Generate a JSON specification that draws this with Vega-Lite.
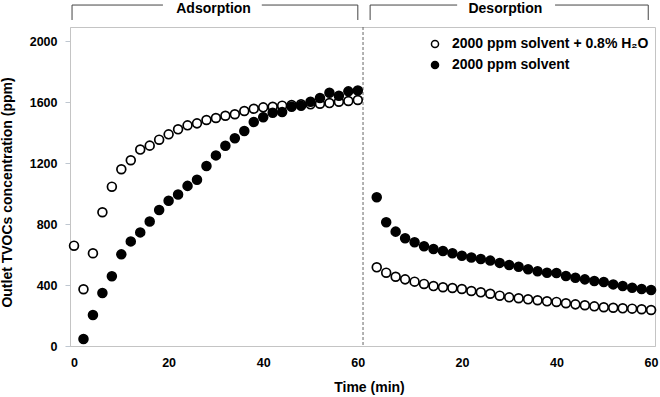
{
  "$schema": "https://vega.github.io/schema/vega-lite/v6.json",
  "width": 585,
  "height": 319,
  "padding": {"left": 70, "top": 27, "right": 5, "bottom": 51},
  "autosize": {"type": "none"},
  "background": "white",
  "config": {
    "font": "Liberation Sans",
    "view": {"stroke": "#c4c4c4", "strokeWidth": 1},
    "axis": {"grid": false, "domainColor": "#c4c4c4", "labelFont": "Liberation Sans", "labelFontWeight": "bold", "labelColor": "black", "labelFontSize": 12.5, "titleFont": "Liberation Sans", "titleFontWeight": "bold", "titleFontSize": 14, "titleColor": "black"},
    "legend": {"labelFont": "Liberation Sans", "labelFontWeight": "bold", "labelFontSize": 14, "labelColor": "black", "labelLimit": 400}
  },
  "layer": [
    {
      "data": {"values": [{"t": 61.1}]},
      "mark": {"type": "rule", "color": "#666666", "strokeDash": [3, 2], "strokeWidth": 1},
      "encoding": {
        "x": {"field": "t", "type": "quantitative", "title": "Time (min)"}
      }
    },
    {
      "data": {"values": [
        {"x1": -0.42, "x2": -0.42, "y1": 2138, "y2": 2236},
        {"x1": -0.42, "x2": 18.8, "y1": 2236, "y2": 2236},
        {"x1": 39.7, "x2": 60.0, "y1": 2236, "y2": 2236},
        {"x1": 60.0, "x2": 60.0, "y1": 2138, "y2": 2236},
        {"x1": 62.6, "x2": 62.6, "y1": 2138, "y2": 2236},
        {"x1": 62.6, "x2": 81.0, "y1": 2236, "y2": 2236},
        {"x1": 101.7, "x2": 121.4, "y1": 2236, "y2": 2236},
        {"x1": 121.4, "x2": 121.4, "y1": 2138, "y2": 2236}
      ]},
      "mark": {"type": "rule", "color": "#444444", "strokeWidth": 1},
      "encoding": {
        "x": {"field": "x1", "type": "quantitative", "title": "Time (min)"},
        "x2": {"field": "x2"},
        "y": {"field": "y1", "type": "quantitative", "title": "Outlet TVOCs concentration (ppm)"},
        "y2": {"field": "y2"}
      }
    },
    {
      "data": {"values": [
        {"label": "Adsorption", "x": 29.5, "y": 2210},
        {"label": "Desorption", "x": 91.2, "y": 2210}
      ]},
      "mark": {"type": "text", "font": "Liberation Sans", "fontWeight": "bold", "fontSize": 14, "color": "black", "baseline": "middle", "align": "center"},
      "encoding": {
        "x": {"field": "x", "type": "quantitative", "title": "Time (min)"},
        "y": {"field": "y", "type": "quantitative", "title": "Outlet TVOCs concentration (ppm)"},
        "text": {"field": "label"}
      }
    },
    {
      "data": {"values": [
        {"series": "2000 ppm solvent + 0.8% H₂O", "phase": "Adsorption", "min": 0, "elapsed": 0, "ppm": 658},
        {"series": "2000 ppm solvent + 0.8% H₂O", "phase": "Adsorption", "min": 2, "elapsed": 2, "ppm": 372},
        {"series": "2000 ppm solvent + 0.8% H₂O", "phase": "Adsorption", "min": 4, "elapsed": 4, "ppm": 608},
        {"series": "2000 ppm solvent + 0.8% H₂O", "phase": "Adsorption", "min": 6, "elapsed": 6, "ppm": 877},
        {"series": "2000 ppm solvent + 0.8% H₂O", "phase": "Adsorption", "min": 8, "elapsed": 8, "ppm": 1045},
        {"series": "2000 ppm solvent + 0.8% H₂O", "phase": "Adsorption", "min": 10, "elapsed": 10, "ppm": 1159},
        {"series": "2000 ppm solvent + 0.8% H₂O", "phase": "Adsorption", "min": 12, "elapsed": 12, "ppm": 1218},
        {"series": "2000 ppm solvent + 0.8% H₂O", "phase": "Adsorption", "min": 14, "elapsed": 14, "ppm": 1288},
        {"series": "2000 ppm solvent + 0.8% H₂O", "phase": "Adsorption", "min": 16, "elapsed": 16, "ppm": 1314},
        {"series": "2000 ppm solvent + 0.8% H₂O", "phase": "Adsorption", "min": 18, "elapsed": 18, "ppm": 1353},
        {"series": "2000 ppm solvent + 0.8% H₂O", "phase": "Adsorption", "min": 20, "elapsed": 20, "ppm": 1388},
        {"series": "2000 ppm solvent + 0.8% H₂O", "phase": "Adsorption", "min": 22, "elapsed": 22, "ppm": 1421},
        {"series": "2000 ppm solvent + 0.8% H₂O", "phase": "Adsorption", "min": 24, "elapsed": 24, "ppm": 1447},
        {"series": "2000 ppm solvent + 0.8% H₂O", "phase": "Adsorption", "min": 26, "elapsed": 26, "ppm": 1460},
        {"series": "2000 ppm solvent + 0.8% H₂O", "phase": "Adsorption", "min": 28, "elapsed": 28, "ppm": 1482},
        {"series": "2000 ppm solvent + 0.8% H₂O", "phase": "Adsorption", "min": 30, "elapsed": 30, "ppm": 1495},
        {"series": "2000 ppm solvent + 0.8% H₂O", "phase": "Adsorption", "min": 32, "elapsed": 32, "ppm": 1510},
        {"series": "2000 ppm solvent + 0.8% H₂O", "phase": "Adsorption", "min": 34, "elapsed": 34, "ppm": 1520},
        {"series": "2000 ppm solvent + 0.8% H₂O", "phase": "Adsorption", "min": 36, "elapsed": 36, "ppm": 1541},
        {"series": "2000 ppm solvent + 0.8% H₂O", "phase": "Adsorption", "min": 38, "elapsed": 38, "ppm": 1556},
        {"series": "2000 ppm solvent + 0.8% H₂O", "phase": "Adsorption", "min": 40, "elapsed": 40, "ppm": 1565},
        {"series": "2000 ppm solvent + 0.8% H₂O", "phase": "Adsorption", "min": 42, "elapsed": 42, "ppm": 1569},
        {"series": "2000 ppm solvent + 0.8% H₂O", "phase": "Adsorption", "min": 44, "elapsed": 44, "ppm": 1576},
        {"series": "2000 ppm solvent + 0.8% H₂O", "phase": "Adsorption", "min": 46, "elapsed": 46, "ppm": 1580},
        {"series": "2000 ppm solvent + 0.8% H₂O", "phase": "Adsorption", "min": 48, "elapsed": 48, "ppm": 1585},
        {"series": "2000 ppm solvent + 0.8% H₂O", "phase": "Adsorption", "min": 50, "elapsed": 50, "ppm": 1585},
        {"series": "2000 ppm solvent + 0.8% H₂O", "phase": "Adsorption", "min": 52, "elapsed": 52, "ppm": 1589},
        {"series": "2000 ppm solvent + 0.8% H₂O", "phase": "Adsorption", "min": 54, "elapsed": 54, "ppm": 1593},
        {"series": "2000 ppm solvent + 0.8% H₂O", "phase": "Adsorption", "min": 56, "elapsed": 56, "ppm": 1602},
        {"series": "2000 ppm solvent + 0.8% H₂O", "phase": "Adsorption", "min": 58, "elapsed": 58, "ppm": 1607},
        {"series": "2000 ppm solvent + 0.8% H₂O", "phase": "Adsorption", "min": 60, "elapsed": 60, "ppm": 1613},
        {"series": "2000 ppm solvent", "phase": "Adsorption", "min": 2, "elapsed": 2, "ppm": 46},
        {"series": "2000 ppm solvent", "phase": "Adsorption", "min": 4, "elapsed": 4, "ppm": 203},
        {"series": "2000 ppm solvent", "phase": "Adsorption", "min": 6, "elapsed": 6, "ppm": 348},
        {"series": "2000 ppm solvent", "phase": "Adsorption", "min": 8, "elapsed": 8, "ppm": 457},
        {"series": "2000 ppm solvent", "phase": "Adsorption", "min": 10, "elapsed": 10, "ppm": 601},
        {"series": "2000 ppm solvent", "phase": "Adsorption", "min": 12, "elapsed": 12, "ppm": 686},
        {"series": "2000 ppm solvent", "phase": "Adsorption", "min": 14, "elapsed": 14, "ppm": 745},
        {"series": "2000 ppm solvent", "phase": "Adsorption", "min": 16, "elapsed": 16, "ppm": 817},
        {"series": "2000 ppm solvent", "phase": "Adsorption", "min": 18, "elapsed": 18, "ppm": 892},
        {"series": "2000 ppm solvent", "phase": "Adsorption", "min": 20, "elapsed": 20, "ppm": 952},
        {"series": "2000 ppm solvent", "phase": "Adsorption", "min": 22, "elapsed": 22, "ppm": 993},
        {"series": "2000 ppm solvent", "phase": "Adsorption", "min": 24, "elapsed": 24, "ppm": 1050},
        {"series": "2000 ppm solvent", "phase": "Adsorption", "min": 26, "elapsed": 26, "ppm": 1090},
        {"series": "2000 ppm solvent", "phase": "Adsorption", "min": 28, "elapsed": 28, "ppm": 1180},
        {"series": "2000 ppm solvent", "phase": "Adsorption", "min": 30, "elapsed": 30, "ppm": 1250},
        {"series": "2000 ppm solvent", "phase": "Adsorption", "min": 32, "elapsed": 32, "ppm": 1313},
        {"series": "2000 ppm solvent", "phase": "Adsorption", "min": 34, "elapsed": 34, "ppm": 1362},
        {"series": "2000 ppm solvent", "phase": "Adsorption", "min": 36, "elapsed": 36, "ppm": 1410},
        {"series": "2000 ppm solvent", "phase": "Adsorption", "min": 38, "elapsed": 38, "ppm": 1469},
        {"series": "2000 ppm solvent", "phase": "Adsorption", "min": 40, "elapsed": 40, "ppm": 1500},
        {"series": "2000 ppm solvent", "phase": "Adsorption", "min": 42, "elapsed": 42, "ppm": 1530},
        {"series": "2000 ppm solvent", "phase": "Adsorption", "min": 44, "elapsed": 44, "ppm": 1534},
        {"series": "2000 ppm solvent", "phase": "Adsorption", "min": 46, "elapsed": 46, "ppm": 1569},
        {"series": "2000 ppm solvent", "phase": "Adsorption", "min": 48, "elapsed": 48, "ppm": 1576},
        {"series": "2000 ppm solvent", "phase": "Adsorption", "min": 50, "elapsed": 50, "ppm": 1602},
        {"series": "2000 ppm solvent", "phase": "Adsorption", "min": 52, "elapsed": 52, "ppm": 1626},
        {"series": "2000 ppm solvent", "phase": "Adsorption", "min": 54, "elapsed": 54, "ppm": 1661},
        {"series": "2000 ppm solvent", "phase": "Adsorption", "min": 56, "elapsed": 56, "ppm": 1641},
        {"series": "2000 ppm solvent", "phase": "Adsorption", "min": 58, "elapsed": 58, "ppm": 1670},
        {"series": "2000 ppm solvent", "phase": "Adsorption", "min": 60, "elapsed": 60, "ppm": 1676},
        {"series": "2000 ppm solvent + 0.8% H₂O", "phase": "Desorption", "min": 2, "elapsed": 64, "ppm": 516},
        {"series": "2000 ppm solvent + 0.8% H₂O", "phase": "Desorption", "min": 4, "elapsed": 66, "ppm": 481},
        {"series": "2000 ppm solvent + 0.8% H₂O", "phase": "Desorption", "min": 6, "elapsed": 68, "ppm": 454},
        {"series": "2000 ppm solvent + 0.8% H₂O", "phase": "Desorption", "min": 8, "elapsed": 70, "ppm": 437},
        {"series": "2000 ppm solvent + 0.8% H₂O", "phase": "Desorption", "min": 10, "elapsed": 72, "ppm": 422},
        {"series": "2000 ppm solvent + 0.8% H₂O", "phase": "Desorption", "min": 12, "elapsed": 74, "ppm": 407},
        {"series": "2000 ppm solvent + 0.8% H₂O", "phase": "Desorption", "min": 14, "elapsed": 76, "ppm": 393},
        {"series": "2000 ppm solvent + 0.8% H₂O", "phase": "Desorption", "min": 16, "elapsed": 78, "ppm": 385},
        {"series": "2000 ppm solvent + 0.8% H₂O", "phase": "Desorption", "min": 18, "elapsed": 80, "ppm": 380},
        {"series": "2000 ppm solvent + 0.8% H₂O", "phase": "Desorption", "min": 20, "elapsed": 82, "ppm": 374},
        {"series": "2000 ppm solvent + 0.8% H₂O", "phase": "Desorption", "min": 22, "elapsed": 84, "ppm": 361},
        {"series": "2000 ppm solvent + 0.8% H₂O", "phase": "Desorption", "min": 24, "elapsed": 86, "ppm": 352},
        {"series": "2000 ppm solvent + 0.8% H₂O", "phase": "Desorption", "min": 26, "elapsed": 88, "ppm": 343},
        {"series": "2000 ppm solvent + 0.8% H₂O", "phase": "Desorption", "min": 28, "elapsed": 90, "ppm": 330},
        {"series": "2000 ppm solvent + 0.8% H₂O", "phase": "Desorption", "min": 30, "elapsed": 92, "ppm": 319},
        {"series": "2000 ppm solvent + 0.8% H₂O", "phase": "Desorption", "min": 32, "elapsed": 94, "ppm": 313},
        {"series": "2000 ppm solvent + 0.8% H₂O", "phase": "Desorption", "min": 34, "elapsed": 96, "ppm": 306},
        {"series": "2000 ppm solvent + 0.8% H₂O", "phase": "Desorption", "min": 36, "elapsed": 98, "ppm": 300},
        {"series": "2000 ppm solvent + 0.8% H₂O", "phase": "Desorption", "min": 38, "elapsed": 100, "ppm": 293},
        {"series": "2000 ppm solvent + 0.8% H₂O", "phase": "Desorption", "min": 40, "elapsed": 102, "ppm": 289},
        {"series": "2000 ppm solvent + 0.8% H₂O", "phase": "Desorption", "min": 42, "elapsed": 104, "ppm": 280},
        {"series": "2000 ppm solvent + 0.8% H₂O", "phase": "Desorption", "min": 44, "elapsed": 106, "ppm": 273},
        {"series": "2000 ppm solvent + 0.8% H₂O", "phase": "Desorption", "min": 46, "elapsed": 108, "ppm": 267},
        {"series": "2000 ppm solvent + 0.8% H₂O", "phase": "Desorption", "min": 48, "elapsed": 110, "ppm": 260},
        {"series": "2000 ppm solvent + 0.8% H₂O", "phase": "Desorption", "min": 50, "elapsed": 112, "ppm": 254},
        {"series": "2000 ppm solvent + 0.8% H₂O", "phase": "Desorption", "min": 52, "elapsed": 114, "ppm": 251},
        {"series": "2000 ppm solvent + 0.8% H₂O", "phase": "Desorption", "min": 54, "elapsed": 116, "ppm": 247},
        {"series": "2000 ppm solvent + 0.8% H₂O", "phase": "Desorption", "min": 56, "elapsed": 118, "ppm": 245},
        {"series": "2000 ppm solvent + 0.8% H₂O", "phase": "Desorption", "min": 58, "elapsed": 120, "ppm": 241},
        {"series": "2000 ppm solvent + 0.8% H₂O", "phase": "Desorption", "min": 60, "elapsed": 122, "ppm": 236},
        {"series": "2000 ppm solvent", "phase": "Desorption", "min": 2, "elapsed": 64, "ppm": 975},
        {"series": "2000 ppm solvent", "phase": "Desorption", "min": 4, "elapsed": 66, "ppm": 811},
        {"series": "2000 ppm solvent", "phase": "Desorption", "min": 6, "elapsed": 68, "ppm": 750},
        {"series": "2000 ppm solvent", "phase": "Desorption", "min": 8, "elapsed": 70, "ppm": 706},
        {"series": "2000 ppm solvent", "phase": "Desorption", "min": 10, "elapsed": 72, "ppm": 680},
        {"series": "2000 ppm solvent", "phase": "Desorption", "min": 12, "elapsed": 74, "ppm": 654},
        {"series": "2000 ppm solvent", "phase": "Desorption", "min": 14, "elapsed": 76, "ppm": 636},
        {"series": "2000 ppm solvent", "phase": "Desorption", "min": 16, "elapsed": 78, "ppm": 623},
        {"series": "2000 ppm solvent", "phase": "Desorption", "min": 18, "elapsed": 80, "ppm": 608},
        {"series": "2000 ppm solvent", "phase": "Desorption", "min": 20, "elapsed": 82, "ppm": 592},
        {"series": "2000 ppm solvent", "phase": "Desorption", "min": 22, "elapsed": 84, "ppm": 581},
        {"series": "2000 ppm solvent", "phase": "Desorption", "min": 24, "elapsed": 86, "ppm": 570},
        {"series": "2000 ppm solvent", "phase": "Desorption", "min": 26, "elapsed": 88, "ppm": 560},
        {"series": "2000 ppm solvent", "phase": "Desorption", "min": 28, "elapsed": 90, "ppm": 545},
        {"series": "2000 ppm solvent", "phase": "Desorption", "min": 30, "elapsed": 92, "ppm": 531},
        {"series": "2000 ppm solvent", "phase": "Desorption", "min": 32, "elapsed": 94, "ppm": 520},
        {"series": "2000 ppm solvent", "phase": "Desorption", "min": 34, "elapsed": 96, "ppm": 503},
        {"series": "2000 ppm solvent", "phase": "Desorption", "min": 36, "elapsed": 98, "ppm": 490},
        {"series": "2000 ppm solvent", "phase": "Desorption", "min": 38, "elapsed": 100, "ppm": 481},
        {"series": "2000 ppm solvent", "phase": "Desorption", "min": 40, "elapsed": 102, "ppm": 479},
        {"series": "2000 ppm solvent", "phase": "Desorption", "min": 42, "elapsed": 104, "ppm": 459},
        {"series": "2000 ppm solvent", "phase": "Desorption", "min": 44, "elapsed": 106, "ppm": 448},
        {"series": "2000 ppm solvent", "phase": "Desorption", "min": 46, "elapsed": 108, "ppm": 437},
        {"series": "2000 ppm solvent", "phase": "Desorption", "min": 48, "elapsed": 110, "ppm": 426},
        {"series": "2000 ppm solvent", "phase": "Desorption", "min": 50, "elapsed": 112, "ppm": 420},
        {"series": "2000 ppm solvent", "phase": "Desorption", "min": 52, "elapsed": 114, "ppm": 404},
        {"series": "2000 ppm solvent", "phase": "Desorption", "min": 54, "elapsed": 116, "ppm": 393},
        {"series": "2000 ppm solvent", "phase": "Desorption", "min": 56, "elapsed": 118, "ppm": 382},
        {"series": "2000 ppm solvent", "phase": "Desorption", "min": 58, "elapsed": 120, "ppm": 374},
        {"series": "2000 ppm solvent", "phase": "Desorption", "min": 60, "elapsed": 122, "ppm": 367}
      ]},
      "mark": {"type": "point", "shape": "circle", "filled": true, "stroke": "black", "strokeWidth": 1.7, "size": 78, "opacity": 1},
      "encoding": {
        "x": {
          "field": "elapsed", "type": "quantitative", "title": "Time (min)",
          "scale": {"domain": [-0.85, 122.83], "nice": false, "zero": false},
          "axis": {"values": [0, 20, 40, 60, 82, 102, 122], "labelExpr": "datum.value > 61 ? datum.value - 62 : datum.value", "ticks": false, "tickSize": 0, "labelPadding": 10, "titleX": 299, "titleY": 41, "titleBaseline": "middle", "titleAlign": "center"}
        },
        "y": {
          "field": "ppm", "type": "quantitative", "title": "Outlet TVOCs concentration (ppm)",
          "scale": {"domain": [0, 2092], "nice": false},
          "axis": {"values": [0, 400, 800, 1200, 1600, 2000], "format": "d", "tickSize": 5, "tickColor": "#bfc7d0", "labelPadding": 8, "titleAngle": 270, "titleX": -63, "titleY": 165, "titleAlign": "center", "titleBaseline": "middle"}
        },
        "fill": {
          "field": "series", "type": "nominal",
          "scale": {"domain": ["2000 ppm solvent + 0.8% H₂O", "2000 ppm solvent"], "range": ["white", "black"]},
          "legend": {"orient": "none", "legendX": 358, "legendY": 10, "title": null, "symbolType": "circle", "symbolSize": 50, "symbolStrokeColor": "black", "symbolStrokeWidth": 1.5, "labelOffset": 10, "rowPadding": 7, "padding": 0, "labelLimit": 400}
        }
      }
    }
  ]
}
